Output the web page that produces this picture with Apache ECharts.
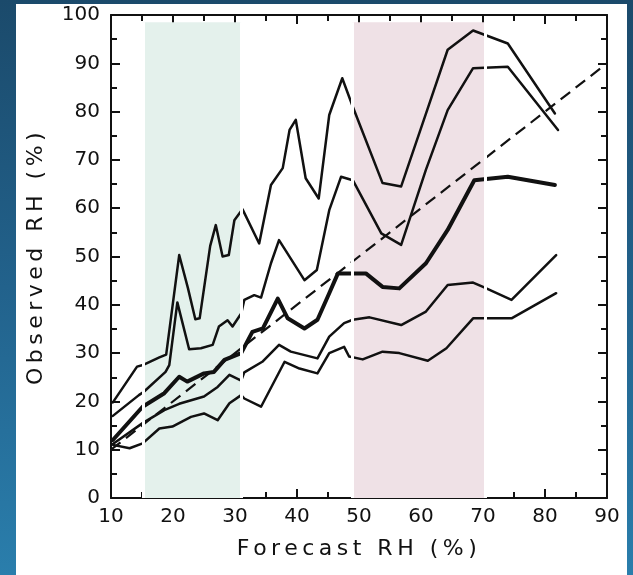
<!DOCTYPE html>
<html>
<head>
<meta charset="utf-8">
<script src="https://cdn.jsdelivr.net/npm/echarts@6/dist/echarts.min.js"></script>
<style>
  html, body { margin: 0; padding: 0; }
  #chart { width: 633px; height: 575px; }
</style>
</head>
<body>
<div id="chart"></div>
<script>
// Observed vs forecast relative humidity (%), percentile curves per forecast bin
const upperCurve = [
  [10.3, 19.8], [14.2, 27.2], [15.3, 27.6], [17.8, 29.1], [18.9, 29.7], [21.0, 50.3],
  [22.4, 43.5], [23.6, 37.0], [24.3, 37.2], [26.0, 52.2], [26.9, 56.5], [28.0, 50.0],
  [29.0, 50.3], [29.9, 57.5], [31.2, 59.8], [33.9, 52.7], [35.8, 64.8], [37.7, 68.3],
  [38.8, 76.2], [39.8, 78.3], [41.4, 66.2], [43.5, 62.0], [45.2, 79.3], [47.3, 86.9],
  [49.0, 81.0], [53.8, 65.2], [56.8, 64.5], [60.8, 79.6], [64.3, 92.8], [68.4, 96.8],
  [74.0, 94.1], [81.6, 79.6]
];
const secondCurve = [
  [10.3, 17.0], [14.5, 21.3], [15.3, 22.0], [18.8, 26.1], [19.4, 27.5], [20.7, 40.5],
  [22.6, 30.8], [24.5, 31.0], [26.4, 31.7], [27.4, 35.5], [28.8, 36.8], [29.6, 35.5],
  [31.0, 38.2], [31.5, 41.0], [33.1, 42.0], [34.2, 41.5], [35.8, 48.6], [37.1, 53.4],
  [41.2, 45.1], [43.2, 47.2], [45.2, 59.6], [47.1, 66.5], [49.0, 65.8], [53.6, 54.8],
  [56.8, 52.4], [60.8, 68.0], [64.3, 80.3], [68.4, 89.0], [74.0, 89.3], [82.1, 76.2]
];
const medianCurve = [
  [10.3, 12.0], [15.1, 18.9], [18.6, 21.7], [21.0, 25.1], [22.3, 24.1], [25.0, 25.8],
  [26.6, 26.1], [28.3, 28.6], [31.0, 30.0], [32.8, 34.4], [34.5, 35.1], [36.9, 41.3],
  [38.5, 37.2], [41.2, 35.1], [43.3, 36.9], [45.2, 42.4], [46.6, 46.5], [51.1, 46.5],
  [53.8, 43.7], [56.5, 43.4], [60.8, 48.6], [64.3, 55.5], [68.6, 65.8], [74.0, 66.5],
  [81.6, 64.8]
];
const fourthCurve = [
  [10.3, 11.2], [15.1, 15.5], [18.6, 18.2], [21.0, 19.5], [25.0, 21.0], [27.2, 23.0],
  [29.1, 25.5], [31.0, 24.3], [31.5, 26.0], [34.4, 28.2], [37.1, 31.7], [39.0, 30.3],
  [43.3, 28.9], [45.2, 33.4], [47.6, 36.2], [49.0, 36.9], [51.7, 37.4], [56.8, 35.8],
  [60.8, 38.6], [64.3, 44.1], [68.4, 44.6], [70.0, 43.7], [74.6, 41.0], [81.8, 50.3]
];
const lowerCurve = [
  [10.3, 11.0], [13.0, 10.3], [15.1, 11.3], [17.8, 14.4], [19.9, 14.8], [22.9, 16.8],
  [25.0, 17.5], [27.2, 16.1], [29.1, 19.6], [31.0, 21.3], [31.5, 20.6], [34.2, 18.9],
  [38.0, 28.2], [40.4, 26.8], [43.3, 25.8], [45.2, 30.0], [47.6, 31.3], [48.4, 29.3],
  [50.6, 28.7], [53.8, 30.3], [56.5, 30.0], [61.1, 28.4], [64.1, 31.0], [68.4, 37.2],
  [74.6, 37.2], [81.8, 42.4]
];
// perfect-reliability diagonal
const diagonal = [[10, 10], [90, 90]];

// highlighted forecast ranges
const greenBand = [15.2, 31.0];
const pinkBand = [48.9, 70.3];
const bandTop = 98.5;

// axes
const xRange = [10, 90];
const yRange = [0, 100];
const tickStep = 10;
const xTitle = 'Forecast RH (%)';
const yTitle = 'Observed RH (%)';

const ink = '#111111';
const font = 'DejaVu Sans';

// The axis titles are set with wide letter tracking; canvas supports this
// natively through letterSpacing, so apply it only while those strings are drawn
// and keep every other label at normal spacing.
(function () {
  const proto = CanvasRenderingContext2D.prototype;
  const baseFillText = proto.fillText;
  proto.fillText = function (text) {
    let out;
    if (text === xTitle || text === yTitle) {
      this.save();
      this.letterSpacing = '4.5px';
      out = baseFillText.apply(this, arguments);
      this.restore();
      this.letterSpacing = '0px';
      const f = this.font;
      this.font = f;
    } else {
      if (this.letterSpacing !== '0px') {
        this.letterSpacing = '0px';
      }
      out = baseFillText.apply(this, arguments);
    }
    return out;
  };
})();

function curve(data, width) {
  return {
    type: 'line', data: data, symbol: 'none', z: 3, silent: true,
    lineStyle: { color: ink, width: width, join: 'round', cap: 'round' }
  };
}

function frameAxis(extra) {
  return Object.assign({
    type: 'value',
    axisLine: { show: true, onZero: false, lineStyle: { color: ink, width: 2 } },
    axisTick: { show: true, inside: true, length: 9, lineStyle: { color: ink, width: 2 } },
    minorTick: { show: true, splitNumber: 2, length: 6, lineStyle: { color: ink, width: 2 } },
    splitLine: { show: false }
  }, extra);
}

const chart = echarts.init(document.getElementById('chart'), null, { renderer: 'canvas' });

chart.setOption({
  animation: false,
  backgroundColor: {
    type: 'linear', x: 0, y: 0, x2: 0, y2: 1,
    colorStops: [
      { offset: 0, color: '#1b4a6b' },
      { offset: 0.5, color: '#22628c' },
      { offset: 1, color: '#2a7eac' }
    ]
  },
  graphic: [{
    type: 'rect', left: 16, top: 4, z: -10,
    shape: { width: 611, height: 575 },
    style: { fill: '#ffffff' }
  }],
  grid: { left: 111, right: 26, top: 15, bottom: 77 },
  xAxis: [
    frameAxis({
      min: xRange[0], max: xRange[1], interval: tickStep,
      name: xTitle, nameLocation: 'middle', nameGap: 40,
      nameTextStyle: { color: ink, fontSize: 22, fontFamily: font },
      axisLabel: { color: ink, fontSize: 20, fontFamily: font, margin: 9 }
    }),
    frameAxis({
      position: 'top', min: xRange[0], max: xRange[1], interval: tickStep,
      axisLabel: { show: false }
    })
  ],
  yAxis: [
    frameAxis({
      min: yRange[0], max: yRange[1], interval: tickStep,
      name: yTitle, nameLocation: 'middle', nameGap: 64,
      nameTextStyle: { color: ink, fontSize: 22, fontFamily: font },
      axisLabel: { color: ink, fontSize: 20, fontFamily: font, margin: 11 }
    }),
    frameAxis({
      position: 'right', min: yRange[0], max: yRange[1], interval: tickStep,
      axisLabel: { show: false }
    })
  ],
  series: [
    {
      // shaded forecast ranges
      type: 'line', data: [], z: 1, silent: true,
      markArea: {
        silent: true,
        data: [
          [{ coord: [greenBand[0], 0], itemStyle: { color: '#e4f1ec' } }, { coord: [greenBand[1], bandTop] }],
          [{ coord: [pinkBand[0], 0], itemStyle: { color: '#efe1e6' } }, { coord: [pinkBand[1], bandTop] }]
        ]
      }
    },
    {
      type: 'line', data: diagonal, symbol: 'none', z: 2, silent: true,
      lineStyle: { color: ink, width: 2.2, type: [12, 7] }
    },
    curve(upperCurve, 2.5),
    curve(secondCurve, 2.5),
    curve(medianCurve, 4),
    curve(fourthCurve, 2.5),
    curve(lowerCurve, 2.5),
    {
      // pale edges of the shaded ranges
      type: 'line', data: [], z: 6, silent: true,
      markLine: {
        silent: true, symbol: 'none', label: { show: false },
        lineStyle: { color: '#ffffff', width: 3, type: 'solid' },
        data: [greenBand[0], greenBand[1], pinkBand[0], pinkBand[1]].map(function (x) {
          return [{ coord: [x, 0] }, { coord: [x, bandTop] }];
        })
      }
    }
  ]
});
</script>
</body>
</html>
